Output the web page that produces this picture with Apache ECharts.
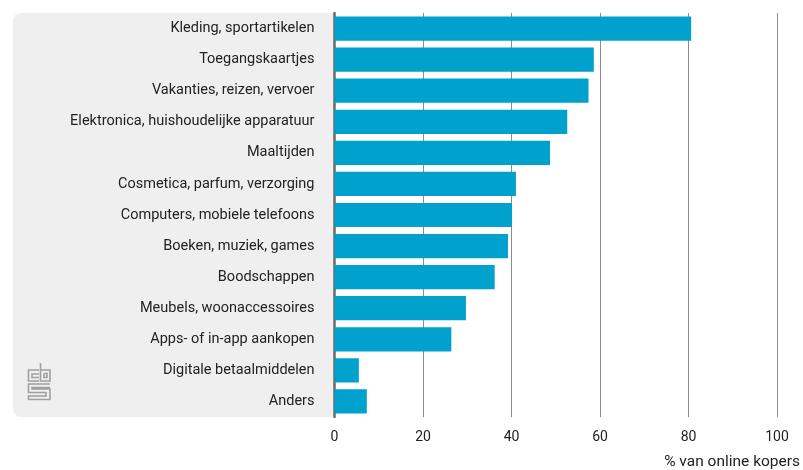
<!DOCTYPE html>
<html>
<head>
<meta charset="utf-8">
<script src="https://cdn.jsdelivr.net/npm/echarts@6/dist/echarts.min.js"></script>
<style>
  html, body { margin: 0; padding: 0; background: #ffffff; }
  #chart { width: 803px; height: 470px; }
</style>
</head>
<body>
<div id="chart"></div>
<script>
// Online aankopen per productgroep
const categories = [
  'Kleding, sportartikelen',
  'Toegangskaartjes',
  'Vakanties, reizen, vervoer',
  'Elektronica, huishoudelijke apparatuur',
  'Maaltijden',
  'Cosmetica, parfum, verzorging',
  'Computers, mobiele telefoons',
  'Boeken, muziek, games',
  'Boodschappen',
  'Meubels, woonaccessoires',
  'Apps- of in-app aankopen',
  'Digitale betaalmiddelen',
  'Anders'
];
const values = [80.6, 58.6, 57.4, 52.6, 48.7, 41.0, 40.1, 39.2, 36.2, 29.7, 26.4, 5.5, 7.3];
const axisTitle = '% van online kopers';

const FONT = 'Roboto';
const chart = echarts.init(document.getElementById('chart'), null, { renderer: 'canvas' });

// CBS logo drawn as thin grey line paths
const logoStroke = { stroke: '#a0a0a0', lineWidth: 1.6, fill: null };
const logoLines = [
  // c
  [[39, 370], [28.5, 370], [28.5, 381], [39, 381]],
  [[39, 374], [32, 374], [32, 377.5], [39, 377.5]],
  // b
  [[40.5, 363], [40.5, 381], [50, 381], [50, 370], [40.5, 370]],
  [[44, 373.5], [47, 373.5], [47, 377.5], [44, 377.5], [44, 373.5]],
  // s
  [[50, 384], [28.5, 384], [28.5, 392.5], [46, 392.5], [46, 396], [28.5, 396], [28.5, 399.5], [50, 399.5], [50, 389], [32, 389], [32, 387.5], [50, 387.5]]
];

chart.setOption({
  animation: false,
  grid: { left: 334.5, right: 26, top: 13, bottom: 53, containLabel: false },
  xAxis: {
    type: 'value',
    min: 0,
    max: 100,
    interval: 20,
    axisLine: { show: false },
    axisTick: { show: false },
    axisLabel: { color: '#222', fontFamily: FONT, fontSize: 14, margin: 13 },
    splitLine: { show: true, lineStyle: { color: '#8c8c8c', width: 1 } }
  },
  yAxis: {
    type: 'category',
    data: categories,
    inverse: true,
    axisLine: { show: true, lineStyle: { color: '#6a6a6a', width: 2.5 } },
    axisTick: { show: false },
    axisLabel: { color: '#222', fontFamily: FONT, fontSize: 14.5, margin: 20, padding: [3, 0, 0, 0] }
  },
  series: [{
    type: 'bar',
    data: values,
    barCategoryGap: '22%',
    itemStyle: { color: '#00a1cd' },
    z: 3
  }],
  graphic: [
    {
      type: 'rect',
      z: -10,
      silent: true,
      shape: { x: 13, y: 13, width: 322, height: 404, r: [8, 0, 0, 8] },
      style: { fill: '#efefef' }
    },
    {
      type: 'text',
      z: 10,
      right: 3,
      top: 454,
      style: { text: axisTitle, fill: '#222', font: '15.5px ' + FONT }
    },
    ...logoLines.map(pts => ({
      type: 'polyline',
      z: 10,
      silent: true,
      shape: { points: pts },
      style: logoStroke
    }))
  ]
});
</script>
</body>
</html>
